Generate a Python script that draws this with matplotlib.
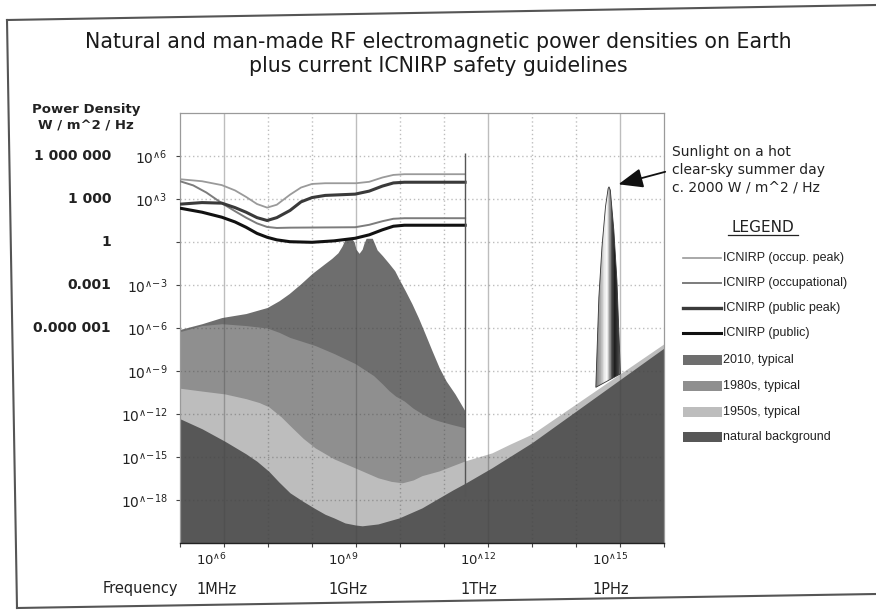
import matplotlib
matplotlib.use("Agg")
import matplotlib.pyplot as plt
import numpy as np
from matplotlib import font_manager
from matplotlib.colors import LinearSegmentedColormap
from matplotlib.lines import Line2D
from matplotlib.patches import Polygon, Rectangle
from matplotlib.transforms import ScaledTranslation, blended_transform_factory

W, H = 876, 612

# everything below is log10(frequency / Hz) and log10(W / m^2 / Hz)
OCC_PEAK_F = [5.0, 5.5, 5.95, 6.25, 6.5, 6.75, 6.98, 7.2, 7.5, 7.75, 8.0, 8.3, 9.0, 9.3,
              9.6, 9.85, 10.1, 11.48]
OCC_PEAK_P = [4.38, 4.24, 3.97, 3.6, 3.15, 2.65, 2.4, 2.6, 3.3, 3.8, 4.05, 4.1, 4.1, 4.2,
              4.5, 4.68, 4.73, 4.73]

OCC_F = [5.0, 5.3, 5.6, 5.95, 6.25, 6.5, 6.75, 6.98, 7.2, 7.5, 8.98, 9.3, 9.6, 9.85,
         10.1, 11.48]
OCC_P = [4.24, 3.95, 3.45, 2.71, 2.15, 1.7, 1.3, 1.05, 0.98, 1.0, 1.03, 1.2, 1.45, 1.62,
         1.66, 1.66]

PUB_PEAK_F = [5.0, 5.5, 5.95, 6.25, 6.5, 6.75, 6.98, 7.2, 7.5, 7.75, 8.0, 8.3, 8.98, 9.3,
              9.6, 9.85, 10.1, 11.48]
PUB_PEAK_P = [2.64, 2.75, 2.71, 2.4, 2.08, 1.7, 1.5, 1.7, 2.2, 2.8, 3.1, 3.25, 3.34, 3.55,
              3.9, 4.12, 4.17, 4.17]

PUB_F = [5.0, 5.5, 5.95, 6.25, 6.5, 6.75, 6.98, 7.2, 7.5, 8.0, 8.5, 8.98, 9.3, 9.6, 9.85,
         10.1, 11.48]
PUB_P = [2.36, 2.08, 1.73, 1.4, 1.03, 0.6, 0.33, 0.15, 0.02, -0.02, 0.08, 0.26, 0.5, 0.85,
         1.1, 1.17, 1.17]

ICNIRP_END_F = 11.48
ICNIRP_END_SPAN = (-17.7, 6.2)

Y2010_F = [5.0, 5.5, 5.95, 6.5, 6.98, 7.25, 7.48, 7.75, 8.0, 8.3, 8.45, 8.59, 8.68, 8.74,
           8.8, 8.9, 8.96, 9.0, 9.07, 9.14, 9.18, 9.23, 9.37, 9.42, 9.48, 9.6, 9.75, 9.88,
           9.98, 10.12, 10.27, 10.42, 10.57, 10.73, 10.89, 11.05, 11.25, 11.48]
Y2010_P = [-6.1, -5.7, -5.27, -4.99, -4.57, -4.1, -3.6, -2.9, -2.2, -1.49, -1.14, -0.75,
           -0.3, 0.1, 0.26, 0.26, 0.0, -0.5, -0.79, -0.5, -0.1, 0.26, 0.26, -0.1, -0.55,
           -0.95, -1.5, -2.0, -2.6, -3.4, -4.3, -5.3, -6.4, -7.6, -8.76, -9.7, -10.6, -11.8]

Y1980_F = [5.0, 5.5, 5.95, 6.5, 6.98, 7.25, 7.5, 8.07, 8.5, 8.98, 9.4, 9.6, 9.75, 9.9,
           10.1, 10.3, 10.5, 10.7, 10.9, 11.2, 11.48]
Y1980_P = [-6.25, -5.83, -5.7, -5.83, -6.0, -6.3, -6.66, -7.22, -7.78, -8.48, -9.32, -9.9,
           -10.37, -10.75, -11.1, -11.6, -11.98, -12.3, -12.5, -12.75, -12.96]

Y1950_F = [5.0, 5.5, 6.02, 6.5, 6.8, 7.02, 7.3, 7.55, 7.8, 8.07, 8.5, 8.98, 9.5, 9.8, 10.05,
           10.3, 10.5, 10.89, 11.2, 11.48, 12.09, 12.5, 13.0, 14.0, 15.0, 16.0]
Y1950_P = [-10.2, -10.4, -10.6, -10.93, -11.2, -11.5, -12.2, -12.96, -13.7, -14.36, -15.13,
           -15.76, -16.45, -16.7, -16.8, -16.6, -16.3, -15.97, -15.6, -15.27, -14.71, -14.1,
           -13.4, -11.3, -9.2, -7.1]

NAT_F = [5.0, 5.5, 6.02, 6.5, 6.75, 7.02, 7.25, 7.5, 7.8, 8.07, 8.3, 8.5, 8.75, 9.0, 9.14,
         9.5, 9.98, 10.5, 10.89, 11.2, 11.5, 12.09, 13.0, 14.0, 15.0, 16.0]
NAT_P = [-12.33, -13.03, -13.9, -14.78, -15.3, -16.0, -16.75, -17.5, -18.1, -18.6, -19.0,
         -19.25, -19.6, -19.75, -19.8, -19.67, -19.25, -18.55, -17.85, -17.3, -16.8, -15.75,
         -14.0, -11.8, -9.6, -7.4]

SUN_F = [14.45, 14.52, 14.59, 14.67, 14.73, 14.75, 14.78, 14.86, 14.93, 15.01]
SUN_P = [-10.14, -3.85, -0.35, 2.45, 3.73, 3.85, 3.62, 0.82, -2.68, -9.2]

Y_TICK_EXP = [-18, -15, -12, -9, -6, -3, 0, 3, 6]
Y_TICK_TXT = [r"$\mathregular{10^{\wedge{-}18}}$", r"$\mathregular{10^{\wedge{-}15}}$",
              r"$\mathregular{10^{\wedge{-}12}}$", r"$\mathregular{10^{\wedge{-}9}}$",
              r"$\mathregular{10^{\wedge{-}6}}$", r"$\mathregular{10^{\wedge{-}3}}$", "",
              r"$\mathregular{10^{\wedge 3}}$", r"$\mathregular{10^{\wedge 6}}$"]
Y_PLAIN_EXP = [6, 3, 0, -3, -6]
Y_PLAIN_TXT = ["1 000 000", "1 000", "1", "0.001", "0.000 001"]
X_LABEL_EXP = [6, 9, 12, 15]
X_EXP_TXT = [r"$\mathregular{10^{\wedge 6}}$", r"$\mathregular{10^{\wedge 9}}$",
             r"$\mathregular{10^{\wedge 12}}$", r"$\mathregular{10^{\wedge 15}}$"]
X_NAME_TXT = ["1MHz", "1GHz", "1THz", "1PHz"]

LEGEND_ROWS = [
    ("line", "ICNIRP (occup. peak)", "#9a9a9a", 1.2),
    ("line", "ICNIRP (occupational)", "#7c7c7c", 1.4),
    ("line", "ICNIRP (public peak)", "#3a3a3a", 2.4),
    ("line", "ICNIRP (public)", "#111111", 2.2),
    ("patch", "2010, typical", "#6e6e6e", 0),
    ("patch", "1980s, typical", "#8f8f8f", 0),
    ("patch", "1950s, typical", "#bdbdbd", 0),
    ("patch", "natural background", "#575757", 0),
]


def lg(a):
    return 10.0 ** np.asarray(a, dtype=float)


def fx(x):
    return x / W


def fy(y):
    return 1 - y / H


plt.rcParams["font.family"] = ["DejaVu Sans"]
installed = {f.name for f in font_manager.fontManager.ttflist}
LEG_FONT = "Liberation Sans" if "Liberation Sans" in installed else "DejaVu Sans"

fig = plt.figure(figsize=(W / 100, H / 100), dpi=100)
ax = fig.add_axes([fx(180), fy(543), (664 - 180) / W, (543 - 113) / H])
ax.set_xscale("log")
ax.set_yscale("log")
ax.set_xlim(1e5, 1e16)
ax.set_ylim(1e-21, 1e9)

# stacked backgrounds, newest in the back
ax.fill_between(lg(Y2010_F), 1e-21, lg(Y2010_P), color="#6e6e6e", lw=0, zorder=1)
ax.fill_between(lg(Y1980_F), 1e-21, lg(Y1980_P), color="#8f8f8f", lw=0, zorder=1.1)
ax.fill_between(lg(Y1950_F), 1e-21, lg(Y1950_P), color="#bdbdbd", lw=0, zorder=1.2)
ax.fill_between(lg(NAT_F), 1e-21, lg(NAT_P), color="#575757", lw=0, zorder=1.3)

# grid on top of the fills, faint
for e in range(6, 16):
    if e % 3 == 0:
        ax.axvline(10.0 ** e, color="#444444", alpha=0.35, lw=1.0, zorder=2)
    else:
        ax.axvline(10.0 ** e, color="#444444", alpha=0.35, lw=1.0, ls=(0, (1, 2)), zorder=2)
for e in Y_TICK_EXP:
    ax.axhline(10.0 ** e, color="#444444", alpha=0.35, lw=1.0, ls=(0, (1, 2)), zorder=2)

# sunlight spike with a cone-like shading
spike = Polygon(np.column_stack([lg(SUN_F), lg(SUN_P)]), closed=True,
                fc="none", ec="#333333", lw=0.6, zorder=5)
ax.add_patch(spike)
shade = LinearSegmentedColormap.from_list(
    "cone", [(0, "#7a7a7a"), (0.18, "#a8a8a8"), (0.34, "#e6e6e6"), (0.44, "#f8f8f8"),
             (0.54, "#b0b0b0"), (0.64, "#555555"), (0.76, "#1e1e1e"), (0.9, "#3a3a3a"),
             (1, "#7a7a7a")])
edges = np.logspace(min(SUN_F), max(SUN_F), 41)
for i in range(40):
    r = ax.axvspan(edges[i], edges[i + 1], color=shade((i + 0.5) / 40), lw=0, zorder=4.5)
    r.set_clip_path(spike)

# ICNIRP limits
ax.plot(lg(OCC_PEAK_F), lg(OCC_PEAK_P), color="#9a9a9a", lw=1.3, zorder=4)
ax.plot(lg(OCC_F), lg(OCC_P), color="#7c7c7c", lw=1.4, zorder=4)
ax.plot(lg(PUB_PEAK_F), lg(PUB_PEAK_P), color="#3a3a3a", lw=2.2, zorder=4)
ax.plot(lg(PUB_F), lg(PUB_P), color="#111111", lw=2.2, zorder=4)
ax.vlines(10.0 ** ICNIRP_END_F, 10.0 ** ICNIRP_END_SPAN[0], 10.0 ** ICNIRP_END_SPAN[1],
          color="#555555", lw=1.0, zorder=4)

# axes frame and ticks
for side in ["top", "right", "left"]:
    ax.spines[side].set_color("#9a9a9a")
    ax.spines[side].set_linewidth(0.9)
ax.spines["bottom"].set_color("#222222")
ax.spines["bottom"].set_linewidth(1.0)
ax.set_xticks(lg(range(5, 17)))
ax.set_xticklabels([""] * 12)
ax.xaxis.set_minor_locator(matplotlib.ticker.NullLocator())
ax.yaxis.set_minor_locator(matplotlib.ticker.NullLocator())
ax.set_yticks(lg(Y_TICK_EXP))
ax.set_yticklabels(Y_TICK_TXT, fontsize=10, color="#222222")
ax.tick_params(axis="both", length=3, width=0.8, color="#444444")
ax.tick_params(axis="y", pad=6)

tx = blended_transform_factory(ax.transData, fig.transFigure) + \
    ScaledTranslation(-28 / 100, 0, fig.dpi_scale_trans)
for e, et, nt in zip(X_LABEL_EXP, X_EXP_TXT, X_NAME_TXT):
    ax.text(10.0 ** e, fy(560), et, transform=tx, ha="left", va="center",
            fontsize=9.5, color="#222222")
    ax.text(10.0 ** e, fy(589), nt, transform=tx, ha="left", va="center",
            fontsize=10.5, color="#222222")
fig.text(fx(178), fy(589), "Frequency", ha="right", va="center", fontsize=10.5,
         color="#222222")

ty = blended_transform_factory(fig.transFigure, ax.transData)
for e, t in zip(Y_PLAIN_EXP, Y_PLAIN_TXT):
    ax.text(fx(111), 10.0 ** e, t, transform=ty, ha="right", va="center",
            fontsize=10, fontweight="bold", color="#222222")
fig.text(fx(86), fy(118), "Power Density\nW / m^2 / Hz", ha="center", va="center",
         multialignment="center", fontsize=9.5, fontweight="bold", linespacing=1.3,
         color="#222222")

fig.text(0.5, fy(54), "Natural and man-made RF electromagnetic power densities on Earth\n"
         "plus current ICNIRP safety guidelines", ha="center", va="center",
         fontsize=14.8, linespacing=1.2, color="#1a1a1a")

peak = int(np.argmax(SUN_P))
ax.annotate("Sunlight on a hot\nclear-sky summer day\nc. 2000 W / m^2 / Hz",
            xy=(10.0 ** SUN_F[peak], 10.0 ** SUN_P[peak]),
            xytext=(fx(672), fy(170)), textcoords="figure fraction",
            ha="left", va="center", fontsize=10, linespacing=1.35, color="#222222",
            annotation_clip=False,
            arrowprops=dict(arrowstyle="-|>,head_length=1.0,head_width=0.4",
                            color="#111111", lw=1.3, relpos=(0, 0.5),
                            shrinkA=3, shrinkB=7, mutation_scale=15))

# legend drawn by hand, as in the original
fig.text(fx(763), fy(227), "LEGEND", ha="center", va="center", fontsize=11,
         color="#222222")
fig.add_artist(Line2D([fx(728), fx(798)], [fy(235), fy(235)], color="#222222", lw=0.9))
rows_y = [258, 283, 308, 333, 360, 386, 412, 437]
for (kind, label, col, lw), y in zip(LEGEND_ROWS, rows_y):
    if kind == "line":
        fig.add_artist(Line2D([fx(683), fx(721)], [fy(y), fy(y)], color=col, lw=lw))
    else:
        fig.add_artist(Rectangle((fx(683), fy(y + 5)), 39 / W, 10 / H, fc=col, ec="none",
                                 transform=fig.transFigure))
    fig.text(fx(723), fy(y), label, ha="left", va="center", fontsize=9,
             family=LEG_FONT, color="#222222")

# scanned page frame
frame = [(7, 20), (876, 5), (876, 594), (17, 608)]
for (x0, y0), (x1, y1) in zip(frame, frame[1:] + frame[:1]):
    if x0 == x1 == 876:
        continue
    fig.add_artist(Line2D([fx(x0), fx(x1)], [fy(y0), fy(y1)], color="#555555", lw=1.5))

fig.savefig("out.png", dpi=100)
